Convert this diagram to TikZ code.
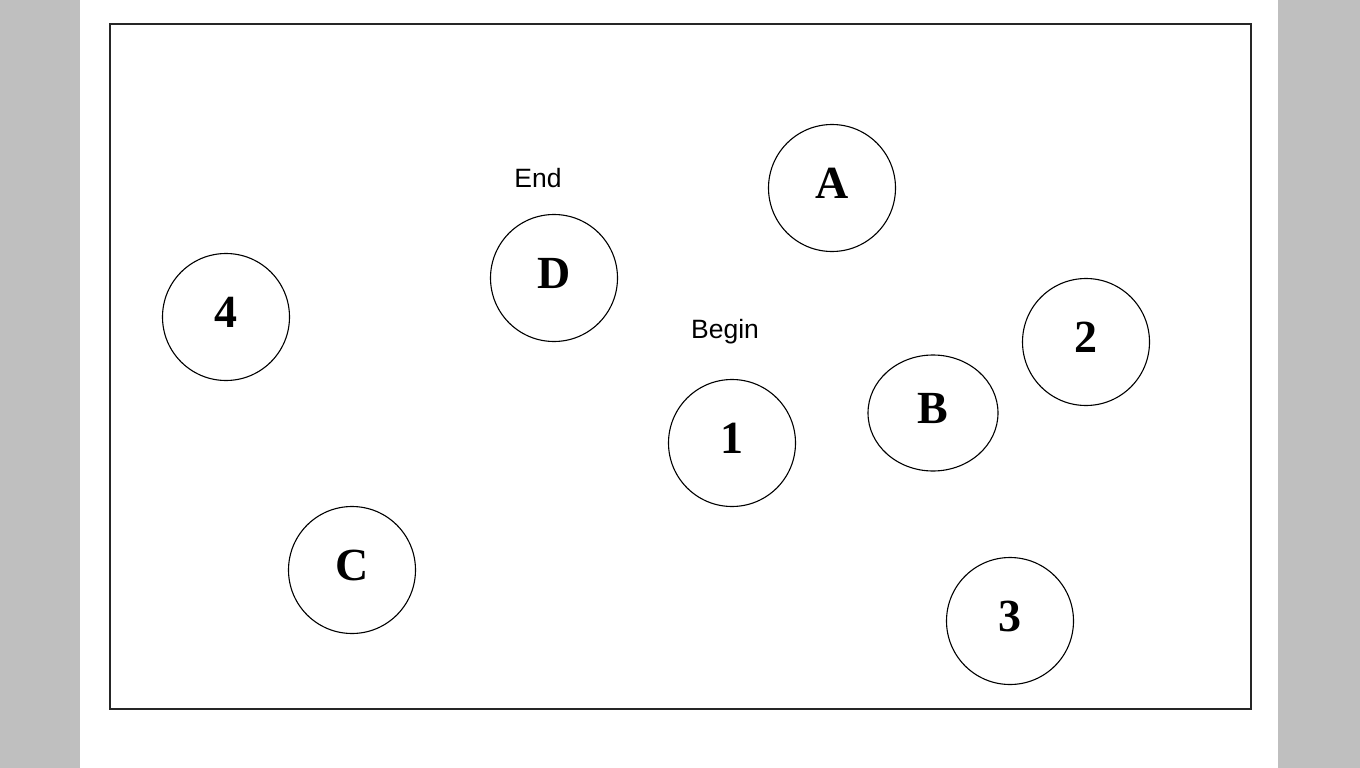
\documentclass[tikz,border=0pt]{standalone}
\usepackage{fontspec}
\setmainfont{Liberation Serif}
\newfontfamily\labelfont{Liberation Sans}
\usetikzlibrary{shapes.geometric}

\begin{document}
\begin{tikzpicture}[x=1pt,y=-1pt]

        \fill[gray!50] (0,0) rectangle (1360,768);
        \fill[white] (80,0) rectangle (1278,768);
        \useasboundingbox (0,0) rectangle (1360,768);
        \draw[line width=1.5pt,black!85] (110,24) rectangle (1251,709);

        \begin{scope}[every node/.style={circle,draw,line width=1.1pt,inner sep=0pt,
            text depth=10pt,minimum size=127pt,font=\fontsize{46}{46}\selectfont\bfseries}]
          \node (A)  at (832,188) {A};
          \node (D)  at (554,278) {D};
          \node (n4) at (226,317) {4};
          \node (n2) at (1086,342) {2};
          \node[ellipse,minimum width=130pt,minimum height=116pt] (B) at (933,413) {B};
          \node (n1) at (732,443) {1};
          \node (C)  at (352,570) {C};
          \node (n3) at (1010,621) {3};
        \end{scope}

        \begin{scope}[every node/.style={font=\labelfont\fontsize{26.5}{26.5}\selectfont}]
          \node (end)   at (538,178) {End};
          \node (begin) at (725,332) {Begin};
        \end{scope}

      \end{tikzpicture}
\end{document}
